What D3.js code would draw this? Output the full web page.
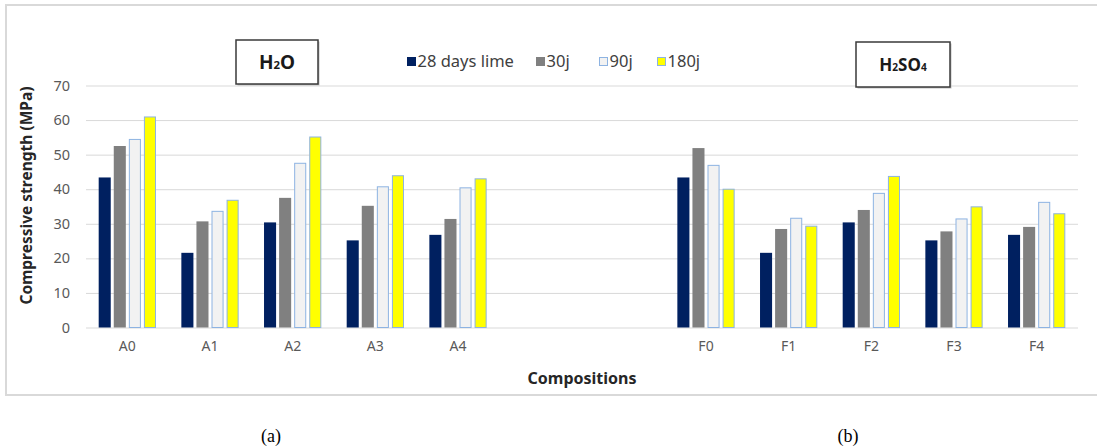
<!DOCTYPE html>
<html>
<head>
<meta charset="utf-8">
<script src="https://cdn.jsdelivr.net/npm/d3@7"></script>
<style>
  html, body { margin: 0; padding: 0; background: #ffffff; }
  svg { display: block; }
</style>
</head>
<body>
<svg id="chart" width="1097" height="447"></svg>
<script>
// Compressive strength of the mortar compositions, cured in water (A) and in H2SO4 (F)
const compositions = ["A0", "A1", "A2", "A3", "A4", "F0", "F1", "F2", "F3", "F4"];
// two empty slots separate the water series from the acid series
const slots = ["A0", "A1", "A2", "A3", "A4", "gap1", "gap2", "F0", "F1", "F2", "F3", "F4"];

const seriesNames = ["28 days lime", "30j", "90j", "180j"];
const lime28 = [43.4, 21.6, 30.4, 25.2, 26.8, 43.4, 21.6, 30.4, 25.2, 26.8];
const days30 = [52.5, 30.7, 37.5, 35.2, 31.4, 51.9, 28.5, 34.0, 27.8, 29.1];
const days90 = [54.4, 33.6, 47.5, 40.7, 40.4, 46.9, 31.6, 38.8, 31.4, 36.2];
const days180 = [60.9, 36.8, 55.1, 43.9, 43.0, 40.0, 29.3, 43.7, 34.9, 32.9];

const yTicks = [0, 10, 20, 30, 40, 50, 60, 70];

const fills = ["#002060", "#808080", "#f2f2f2", "#ffff00"];
const strokes = ["none", "none", "#8db3e2", "#8db3e2"];

const svg = d3.select("#chart");
const sans = "'Noto Sans', 'Open Sans', sans-serif";

// chart frame
svg.append("rect")
  .attr("x", 6).attr("y", 5).attr("width", 1100).attr("height", 390)
  .attr("fill", "#ffffff").attr("stroke", "#d9d9d9").attr("stroke-width", 2);

const x0 = d3.scaleBand().domain(slots).range([86, 1078])
  .paddingInner(0.307).paddingOuter(0.1535);
const x1 = d3.scaleBand().domain(seriesNames).range([0, x0.bandwidth()]).paddingInner(0.2);
const y = d3.scaleLinear().domain([0, 70]).range([327.5, 85.5]);

// horizontal gridlines
const yAxis = d3.axisLeft(y).tickValues(yTicks).tickSize(-(1078 - 86)).tickPadding(16);
const gy = svg.append("g").attr("transform", "translate(86,0)").call(yAxis);
gy.select(".domain").remove();
gy.selectAll(".tick line").attr("stroke", "#d9d9d9").attr("stroke-width", 1);
gy.selectAll(".tick text")
  .attr("font-family", sans).attr("font-size", 14.5).attr("fill", "#595959");

// category labels
const xAxis = d3.axisBottom(x0).tickValues(compositions).tickSize(0).tickPadding(14);
const gx = svg.append("g").attr("transform", `translate(0,${y(0)})`).call(xAxis);
gx.select(".domain").remove();
gx.selectAll(".tick text")
  .attr("font-family", sans).attr("font-size", 14).attr("fill", "#595959");

// bars
const rows = compositions.map((c, i) => ({
  key: c,
  values: [lime28[i], days30[i], days90[i], days180[i]]
}));

const groups = svg.append("g").selectAll("g")
  .data(rows).join("g")
  .attr("transform", d => `translate(${x0(d.key)},0)`);

groups.selectAll("rect")
  .data(d => d.values.map((v, k) => ({ name: seriesNames[k], k, v })))
  .join("rect")
  .attr("x", d => x1(d.name) + (strokes[d.k] === "none" ? 0 : 0.5))
  .attr("y", d => y(d.v))
  .attr("width", d => x1.bandwidth() - (strokes[d.k] === "none" ? 0 : 1))
  .attr("height", d => y(0) - y(d.v))
  .attr("fill", d => fills[d.k])
  .attr("stroke", d => strokes[d.k])
  .attr("stroke-width", 1);

// legend
const legendX = [407, 536, 599, 657];
const legend = svg.append("g");
seriesNames.forEach((name, k) => {
  const g = legend.append("g").attr("transform", `translate(${legendX[k]},57)`);
  g.append("rect")
    .attr("x", 0.5).attr("y", 0.5).attr("width", 8).attr("height", 8)
    .attr("fill", fills[k])
    .attr("stroke", k >= 2 ? "#8db3e2" : fills[k]).attr("stroke-width", 1);
  g.append("text")
    .attr("x", 10.5).attr("y", 10)
    .attr("font-family", sans).attr("font-size", 16.5).attr("fill", "#404040")
    .text(name);
});

// medium labels in boxed frames
function mediumBox(bx, by, bw, bh, parts, size) {
  svg.append("rect")
    .attr("x", bx + 1.5).attr("y", by + 1.5).attr("width", bw).attr("height", bh)
    .attr("fill", "#bfbfbf");
  svg.append("rect")
    .attr("x", bx).attr("y", by).attr("width", bw).attr("height", bh)
    .attr("fill", "#ffffff").attr("stroke", "#3a3a3a").attr("stroke-width", 1.5);
  const t = svg.append("text")
    .attr("x", bx + bw / 2).attr("y", by + bh / 2 + size * 0.36)
    .attr("text-anchor", "middle")
    .attr("font-family", sans).attr("font-weight", "bold")
    .attr("font-size", size).attr("fill", "#1a1a1a");
  parts.forEach(p => {
    t.append("tspan")
      .attr("font-size", p.sub ? size * 0.6 : size)
      .text(p.t);
  });
}
mediumBox(236, 40, 82, 44, [{ t: "H" }, { t: "2", sub: true }, { t: "O" }], 19);
mediumBox(856, 42, 94, 45, [{ t: "H" }, { t: "2", sub: true }, { t: "SO" }, { t: "4", sub: true }], 17);

// axis titles
svg.append("text")
  .attr("transform", `translate(32,${(y(0) + y(70)) / 2 - 11}) rotate(-90)`)
  .attr("text-anchor", "middle")
  .attr("font-family", sans).attr("font-weight", "bold")
  .attr("font-size", 15.5).attr("fill", "#262626")
  .text("Compressive strength (MPa)");

svg.append("text")
  .attr("x", 582).attr("y", 384)
  .attr("text-anchor", "middle")
  .attr("font-family", sans).attr("font-weight", "bold")
  .attr("font-size", 16).attr("fill", "#262626")
  .text("Compositions");

// panel captions
[["(a)", 271], ["(b)", 848]].forEach(([c, cx]) => {
  svg.append("text")
    .attr("x", cx).attr("y", 442)
    .attr("text-anchor", "middle")
    .attr("font-family", "'Liberation Serif', 'DejaVu Serif', serif")
    .attr("font-size", 18).attr("fill", "#000000")
    .text(c);
});
</script>
</body>
</html>
